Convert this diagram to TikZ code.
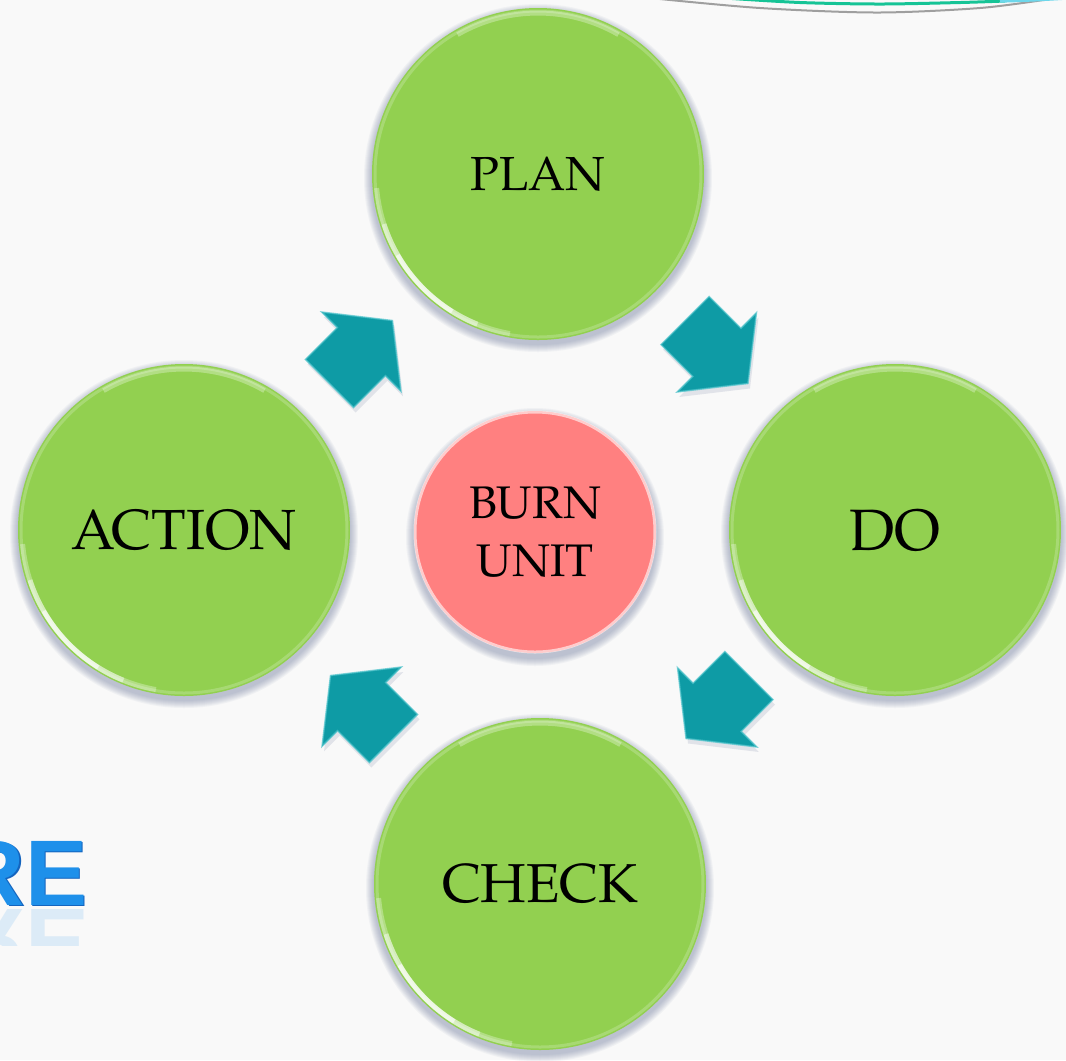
\documentclass[tikz,border=0pt]{standalone}
\usepackage{fontspec}
\setmainfont{TeX Gyre Pagella}
\newfontfamily\refont{Liberation Sans}
\usetikzlibrary{calc}
\definecolor{bgc}{RGB}{249,249,249}
\definecolor{leafc}{RGB}{146,208,80}
\definecolor{tealc}{RGB}{14,155,165}
\definecolor{tealhi}{RGB}{80,196,204}
\definecolor{pinkc}{RGB}{255,128,128}
\definecolor{shadowc}{RGB}{90,105,145}
\definecolor{bluere}{RGB}{30,144,234}
\definecolor{bluedark}{RGB}{20,100,190}
\definecolor{linegreen}{RGB}{22,196,150}
\definecolor{linecyan}{RGB}{110,215,235}
\newcommand\softshadow[3]{%
  \foreach \k in {0,...,7}{\fill[shadowc, opacity=0.055] ($(#1)+(0,#3)$) circle[radius={#2+8-\k}];}}
\newcommand\bevel[2]{%
  \draw[white, opacity=0.2, line width=0.3mm] (#1) circle[radius={#2-3}];
  \draw[white, opacity=0.3, line width=0.5mm] ($(#1)+(100:#2-4)$) arc[start angle=100, end angle=175, radius={#2-4}];
  \draw[white, opacity=0.45, line width=0.5mm] ($(#1)+(112:#2-4)$) arc[start angle=112, end angle=162, radius={#2-4}];
  \draw[white, opacity=0.6, line width=0.45mm] ($(#1)+(122:#2-4)$) arc[start angle=122, end angle=150, radius={#2-4}];
  \draw[white, opacity=0.3, line width=0.5mm] ($(#1)+(240:#2-5)$) arc[start angle=240, end angle=300, radius={#2-5}];}
\newcommand\arrowshape{(-44.5,-34) -- (0.5,-34) -- (0.5,-56) -- (44.5,0) -- (0.5,56) -- (0.5,34) -- (-44.5,34) -- cycle}
\begin{document}
\begin{tikzpicture}[x=0.1mm,y=-0.1mm,
  gcirc/.style={circle, fill=leafc, minimum size=33.2mm, inner sep=0pt},
  pcirc/.style={circle, fill=pinkc, minimum size=24.2mm, inner sep=0pt, align=center, font=\fontsize{13}{16.5}\selectfont},
  blockarrow/.style={fill=tealc},
  arrowedge/.style={draw=tealhi, line width=0.15mm, opacity=0.7},
  arrowshadow/.style={fill=shadowc, opacity=0.15},
  retext/.style={anchor=base east, inner sep=0pt, font=\refont\bfseries\fontsize{26.5}{26.5}\selectfont}]
\fill[bgc] (0,0) rectangle (1066,1060);
\useasboundingbox (0,0) rectangle (1066,1060);
% decorative curves top right
\draw[gray!75, line width=0.2mm] plot[smooth] coordinates {(650,-2) (760,8) (877,12.5) (980,8) (1050,-1)};
\draw[linegreen, line width=0.3mm] plot[smooth] coordinates {(725,-2) (800,2.5) (880,4) (960,2.5) (1005,1)};
\draw[linecyan, line width=0.3mm] plot[smooth] coordinates {(1000,1.2) (1035,0) (1070,-2)};
% "RE" title fragment (cut off at the left edge, as in the reference)
\begin{scope}
\clip (0,908) rectangle (120,945);
\begin{scope}[shift={(88,909)}, yscale=-1]
\node[retext, transform shape, text=bluere, opacity=0.13] (rerefl) at (0,0) {RE};
\end{scope}
\end{scope}
\node[retext, text=bluedark] (reshadow) at (89.3,906.3) {RE};
\node[retext, text=bluere] (re) at (88,905) {RE};
% centres
\coordinate (cP) at (538,174);
\coordinate (cD) at (895,530);
\coordinate (cC) at (540,884);
\coordinate (cA) at (184,530);
\coordinate (cB) at (535,532);
% shadows
\softshadow{cP}{166}{4}
\softshadow{cD}{166}{4}
\softshadow{cC}{166}{4}
\softshadow{cA}{166}{4}
\softshadow{cB}{121}{5}
% circles
\node[gcirc, font=\fontsize{13.6}{16}\selectfont] (plan) at (cP) {PLAN};
\node[gcirc, font=\fontsize{16.6}{19}\selectfont] (do) at (cD) {DO};
\node[gcirc, font=\fontsize{15.6}{18}\selectfont] (check) at (cC) {CHECK};
\node[gcirc, font=\fontsize{16.1}{19}\selectfont] (action) at (cA) {ACTION};
\node[pcirc] (burn) at (cB) {BURN\\UNIT};
\bevel{cP}{166}
\bevel{cD}{166}
\bevel{cC}{166}
\bevel{cA}{166}
\draw[white, opacity=0.6, line width=0.3mm] (cB) circle[radius=120];
% block arrows between the circles
\foreach \from/\to/\ang in {action/plan/45, plan/do/-45, do/check/-135, check/action/135}{
  \begin{scope}[shift={($($(\from.center)!0.5!(\to.center)$)+(2,5)$)}, rotate=\ang]
    \fill[arrowshadow] \arrowshape;
  \end{scope}
  \begin{scope}[shift={($(\from.center)!0.5!(\to.center)$)}, rotate=\ang]
    \fill[blockarrow] \arrowshape;
    \draw[arrowedge] \arrowshape;
  \end{scope}
}
\end{tikzpicture}
\end{document}
